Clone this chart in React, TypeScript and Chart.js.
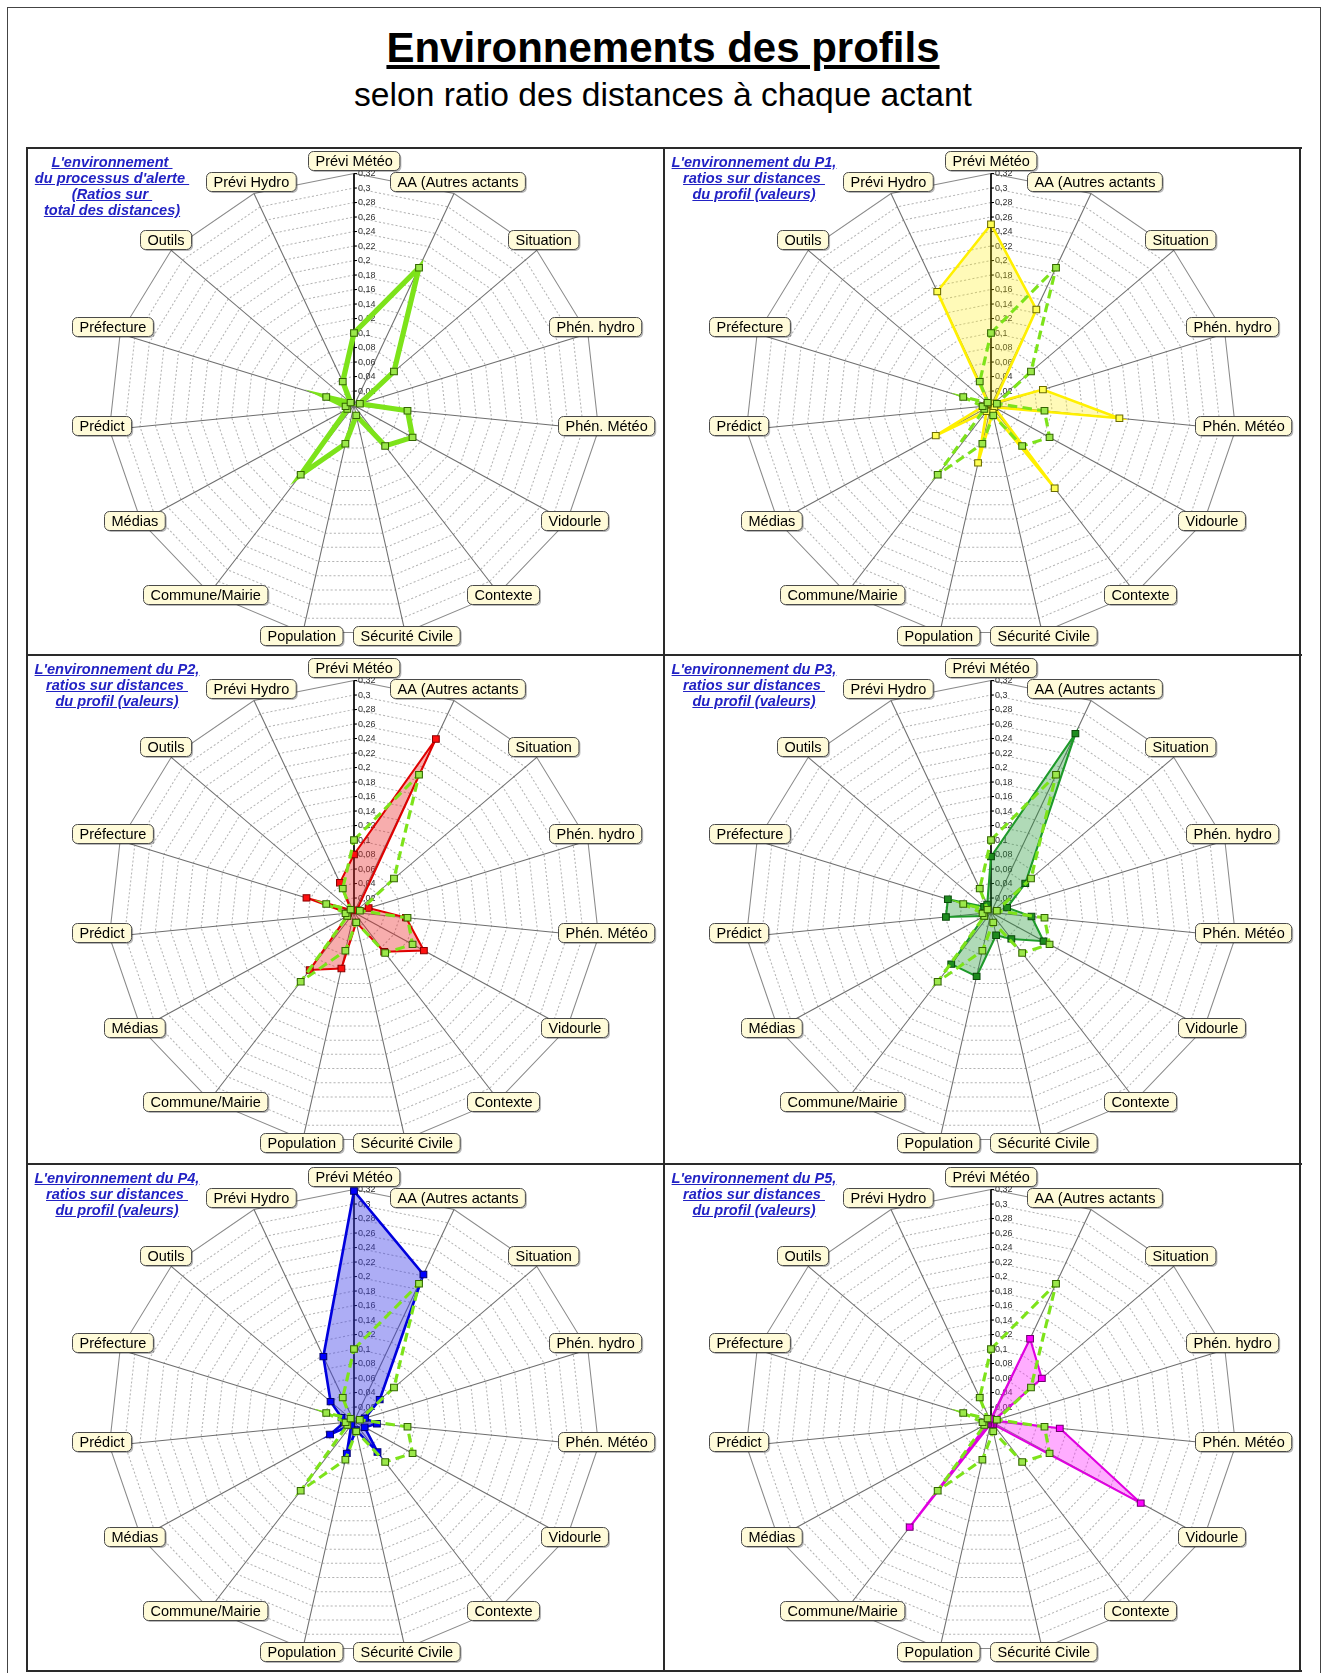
import React, { useEffect, useRef } from "react";
import { Chart, registerables } from "chart.js";

Chart.register(...registerables);

// ---------- data ----------
const AXES = [
  "Prévi Météo",
  "AA (Autres actants",
  "Situation",
  "Phén. hydro",
  "Phén. Météo",
  "Vidourle",
  "Contexte",
  "Sécurité Civile",
  "Population",
  "Commune/Mairie",
  "Médias",
  "Prédict",
  "Préfecture",
  "Outils",
  "Prévi Hydro",
];

const TICK_VALUES = [0.02, 0.04, 0.06, 0.08, 0.1, 0.12, 0.14, 0.16, 0.18, 0.2, 0.22, 0.24, 0.26, 0.28, 0.3, 0.32];
const TICK_LABELS = ["0,02", "0,04", "0,06", "0,08", "0,1", "0,12", "0,14", "0,16", "0,18", "0,2", "0,22", "0,24", "0,26", "0,28", "0,3", "0,32"];
const SCALE_MAX = 0.32;

// processus d'alerte (reference series, shown in every panel)
const ALERTE = [0.1, 0.208, 0.07, 0.008, 0.07, 0.088, 0.069, 0.014, 0.054, 0.118, 0.01, 0.011, 0.038, 0.006, 0.036];
const P1 = [0.25, 0.145, 0.005, 0.071, 0.168, 0.005, 0.141, 0.01, 0.081, 0.01, 0.083, 0.01, 0.005, 0.005, 0.172];
const P2 = [0.08, 0.262, 0.005, 0.02, 0.068, 0.105, 0.067, 0.014, 0.079, 0.098, 0.01, 0.008, 0.065, 0.005, 0.045];
const P3 = [0.077, 0.27, 0.06, 0.022, 0.053, 0.079, 0.045, 0.032, 0.09, 0.088, 0.01, 0.059, 0.059, 0.012, 0.012];
const P4 = [0.318, 0.222, 0.045, 0.015, 0.03, 0.016, 0.052, 0.012, 0.045, 0.006, 0.036, 0.013, 0.017, 0.041, 0.098];
const P5 = [0.004, 0.125, 0.089, 0.004, 0.09, 0.225, 0.005, 0.004, 0.004, 0.18, 0.004, 0.004, 0.004, 0.004, 0.004];

const PANEL_TITLES = [
  ["L'environnement ", "du processus d'alerte ", "(Ratios sur ", "total des distances)"],
  ["L'environnement du P1,", "ratios sur distances ", "du profil (valeurs)"],
  ["L'environnement du P2,", "ratios sur distances ", "du profil (valeurs)"],
  ["L'environnement du P3,", "ratios sur distances ", "du profil (valeurs)"],
  ["L'environnement du P4,", "ratios sur distances ", "du profil (valeurs)"],
  ["L'environnement du P5,", "ratios sur distances ", "du profil (valeurs)"],
];

const PROFILES = [null, P1, P2, P3, P4, P5];

// ---------- styles ----------
const GREEN = "#7DE31A";
const PROFILE_STYLES = [
  null,
  { line: "#FFF000", fill: "rgba(255, 238, 0, 0.28)", pt: "#FFFF55", ptBorder: "#6B6B00", width: 2.5 },
  { line: "#E00000", fill: "rgba(235, 40, 40, 0.38)", pt: "#FF1010", ptBorder: "#8A0000", width: 2 },
  { line: "#1E9A2A", fill: "rgba(30, 150, 50, 0.35)", pt: "#1E8C1E", ptBorder: "#0A4A0A", width: 2 },
  { line: "#0000DD", fill: "rgba(60, 60, 230, 0.42)", pt: "#0000FF", ptBorder: "#000070", width: 2.5 },
  { line: "#E000E0", fill: "rgba(255, 40, 255, 0.38)", pt: "#FF00FF", ptBorder: "#700070", width: 2 },
];

const PANEL_W = 636;
const PANEL_H = 507;
const CENTER_X = 327;
const CENTER_Y = 257.5;
const RADIUS = 232;
const STRETCH_X = 1.06;

const PANELS = [
  { left: 27, top: 148 },
  { left: 664, top: 148 },
  { left: 27, top: 655 },
  { left: 664, top: 655 },
  { left: 27, top: 1164 },
  { left: 664, top: 1164 },
];

const FONT = '"Liberation Sans", Arial, Helvetica, sans-serif';

function buildDatasets(idx: number) {
  const sets: any[] = [];
  const common = {
    pointStyle: "rect",
    pointRadius: 4.5,
    pointBorderWidth: 1,
  };
  if (idx === 0) {
    sets.push({
      ...common,
      data: ALERTE,
      borderColor: GREEN,
      borderWidth: 5,
      backgroundColor: "transparent",
      fill: false,
      pointBackgroundColor: "#9BE84A",
      pointBorderColor: "#336600",
    });
  } else {
    sets.push({
      ...common,
      data: ALERTE,
      borderColor: GREEN,
      borderWidth: 3,
      borderDash: [9, 5],
      backgroundColor: "transparent",
      fill: false,
      pointBackgroundColor: "#9BE84A",
      pointBorderColor: "#336600",
    });
    const st: any = PROFILE_STYLES[idx];
    sets.push({
      ...common,
      data: PROFILES[idx],
      borderColor: st.line,
      borderWidth: st.width,
      backgroundColor: st.fill,
      fill: true,
      pointBackgroundColor: st.pt,
      pointBorderColor: st.ptBorder,
    });
  }
  return sets;
}

const decorPlugin = {
  id: "decor",
  beforeDraw(chart: any) {
    const s = chart.scales.r;
    const ctx = chart.ctx;
    ctx.save();
    ctx.translate(s.xCenter, 0);
    ctx.scale(STRETCH_X, 1);
    ctx.translate(-s.xCenter, 0);
  },
  beforeDatasetsDraw(chart: any) {
    const s = chart.scales.r;
    const ctx = chart.ctx;
    const dpr = chart.currentDevicePixelRatio || 1;
    ctx.save();
    ctx.setTransform(dpr, 0, 0, dpr, 0, 0);
    const top = s.getPointPosition(0, s.getDistanceFromCenterForValue(SCALE_MAX));
    ctx.strokeStyle = "#000";
    ctx.lineWidth = 1.6;
    ctx.beginPath();
    ctx.moveTo(s.xCenter, s.yCenter);
    ctx.lineTo(top.x, top.y);
    ctx.stroke();
    ctx.font = "9px " + FONT;
    ctx.fillStyle = "#333";
    ctx.textBaseline = "middle";
    ctx.textAlign = "left";
    ctx.lineWidth = 1;
    TICK_VALUES.forEach((v, i) => {
      const p = s.getPointPosition(0, s.getDistanceFromCenterForValue(v));
      ctx.beginPath();
      ctx.moveTo(p.x, p.y);
      ctx.lineTo(p.x + 3, p.y);
      ctx.stroke();
      ctx.fillText(TICK_LABELS[i], p.x + 4, p.y + 0.5);
    });
    ctx.restore();
  },
  afterDatasetsDraw(chart: any) {
    chart.ctx.restore();
  },
  afterDraw(chart: any) {
    const s = chart.scales.r;
    const ctx = chart.ctx;
    ctx.save();
    ctx.font = "14.5px " + FONT;
    AXES.forEach((lab, i) => {
      const ang = s.getIndexAngle(i);
      const v = s.getPointPosition(i, s.getDistanceFromCenterForValue(SCALE_MAX));
      const cx = v.x + 22 * Math.sin(ang);
      const cy = v.y - 8.1 * Math.cos(ang) - 4.9;
      const tw = ctx.measureText(lab).width;
      const w = tw + 14;
      const h = 19;
      const x = Math.round(cx - w / 2) + 0.5;
      const y = Math.round(cy - h / 2) + 0.5;
      ctx.fillStyle = "rgba(0,0,0,0.28)";
      ctx.beginPath();
      ctx.roundRect(x + 1.5, y + 1.5, w, h, 5);
      ctx.fill();
      ctx.fillStyle = "#FFFBD9";
      ctx.strokeStyle = "#4a4a4a";
      ctx.lineWidth = 1;
      ctx.beginPath();
      ctx.roundRect(x, y, w, h, 5);
      ctx.fill();
      ctx.stroke();
      ctx.fillStyle = "#000";
      ctx.textAlign = "center";
      ctx.textBaseline = "middle";
      ctx.fillText(lab, x + w / 2, y + h / 2 + 0.5);
    });
    ctx.restore();
  },
};

function RadarPanel({ idx }: { idx: number }) {
  const ref = useRef<HTMLCanvasElement | null>(null);
  useEffect(() => {
    if (!ref.current) return;
    const chart = new Chart(ref.current, {
      type: "radar",
      data: { labels: AXES, datasets: buildDatasets(idx) },
      options: {
        animation: false,
        responsive: false,
        events: [],
        layout: { padding: 0 },
        elements: { line: { tension: 0 } },
        plugins: { legend: { display: false }, tooltip: { enabled: false } },
        scales: {
          r: {
            min: 0,
            max: SCALE_MAX,
            ticks: { display: false, stepSize: 0.02 },
            pointLabels: { display: false },
            grid: {
              color: (c: any) => (c.tick && c.tick.value >= 0.319 ? "#8a8a8a" : "#b4b4b4"),
              lineWidth: 1,
            },
            border: {
              dash: (c: any) => (c.tick && c.tick.value >= 0.319 ? [] : [2, 2]),
            },
            angleLines: { color: "#6e6e6e", lineWidth: 1 },
            afterFit: (scale: any) => {
              scale.xCenter = CENTER_X;
              scale.yCenter = CENTER_Y;
              scale.drawingArea = RADIUS;
            },
          } as any,
        },
      },
      plugins: [decorPlugin],
    } as any);
    return () => chart.destroy();
  }, [idx]);
  const p = PANELS[idx];
  return (
    <canvas
      ref={ref}
      width={PANEL_W}
      height={PANEL_H}
      style={{ position: "absolute", left: p.left, top: p.top, width: PANEL_W, height: PANEL_H, display: "block" }}
    />
  );
}

function PanelTitle({ idx }: { idx: number }) {
  const p = PANELS[idx];
  const off = idx === 0 ? 85 : 90;
  return (
    <div
      style={{
        position: "absolute",
        left: p.left + off - 110,
        top: p.top + 5.5,
        width: 220,
        textAlign: "center",
        whiteSpace: "pre",
        fontFamily: FONT,
        fontWeight: "bold",
        fontStyle: "italic",
        fontSize: 14.6,
        lineHeight: "16.2px",
        color: "#2222C4",
        textDecoration: "underline",
      }}
    >
      {PANEL_TITLES[idx].map((l, i) => (
        <div key={i}>{l}</div>
      ))}
    </div>
  );
}

const line = (left: number, top: number, width: number, height: number, color = "#2a2a2a") => (
  <div style={{ position: "absolute", left, top, width, height, background: color }} />
);

export default function App() {
  return (
    <div
      style={{
        position: "absolute",
        left: 0,
        top: 0,
        width: 1327,
        height: 1673,
        overflow: "hidden",
        background: "#fff",
        fontFamily: FONT,
      }}
    >
      {/* outer frame */}
      <div
        style={{
          position: "absolute",
          left: 7,
          top: 7,
          width: 1314,
          height: 1700,
          border: "1.5px solid #444",
          boxSizing: "border-box",
        }}
      />
      <div
        style={{
          position: "absolute",
          left: 0,
          top: 26.5,
          width: 1326,
          textAlign: "center",
          fontSize: 42,
          lineHeight: "42px",
          fontWeight: "bold",
          textDecoration: "underline",
          color: "#000",
        }}
      >
        Environnements des profils
      </div>
      <div
        style={{
          position: "absolute",
          left: 0,
          top: 78,
          width: 1326,
          textAlign: "center",
          fontSize: 33.6,
          lineHeight: "33px",
          color: "#000",
        }}
      >
        selon ratio des distances à chaque actant
      </div>

      {[0, 1, 2, 3, 4, 5].map((i) => (
        <RadarPanel key={"c" + i} idx={i} />
      ))}
      {[0, 1, 2, 3, 4, 5].map((i) => (
        <PanelTitle key={"t" + i} idx={i} />
      ))}

      {/* grid frame */}
      {line(26, 147, 1276, 2)}
      {line(26, 654, 1276, 2)}
      {line(26, 1163, 1276, 2)}
      {line(26, 1670, 1276, 2)}
      {line(26, 147, 2, 1525)}
      {line(663, 147, 2, 1525)}
      {line(1299, 147, 2, 1525)}
    </div>
  );
}
